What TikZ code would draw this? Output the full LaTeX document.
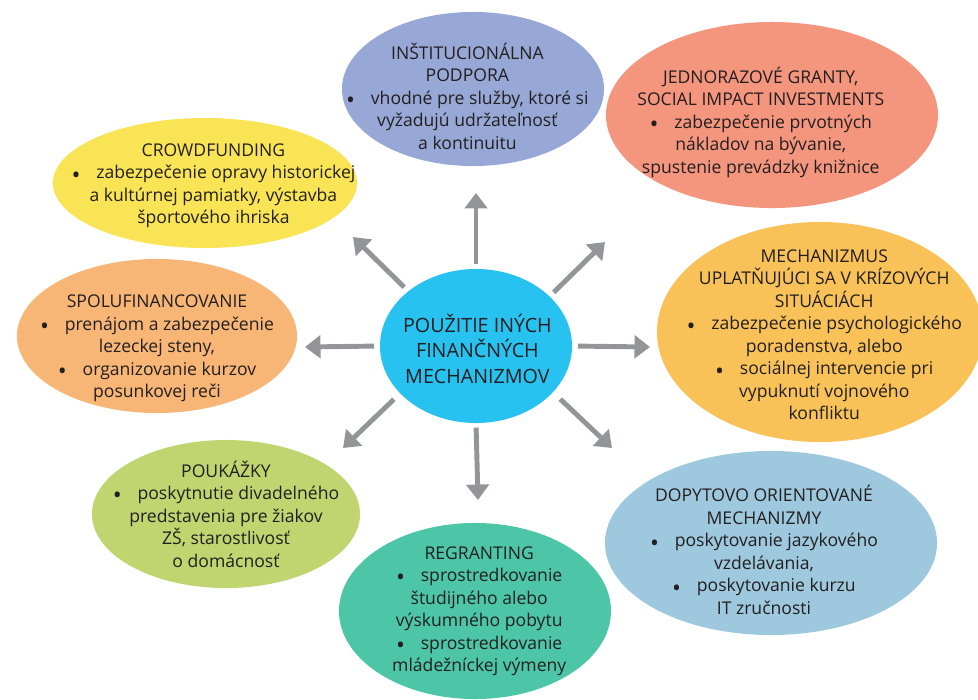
\documentclass[tikz,border=0pt]{standalone}
\usepackage{fontspec}
\setmainfont{Open Sans}
\usepackage{tikz}
\usetikzlibrary{arrows.meta, shapes.geometric}

\definecolor{hubc}{HTML}{27C2F0}
\definecolor{insc}{HTML}{97A8D6}
\definecolor{grantc}{HTML}{F4957E}
\definecolor{crowdc}{HTML}{F8E455}
\definecolor{spoluc}{HTML}{F8B676}
\definecolor{krizc}{HTML}{F9C259}
\definecolor{poukc}{HTML}{C0D46F}
\definecolor{regrc}{HTML}{4CC6A6}
\definecolor{dopytc}{HTML}{9DC8DD}
\definecolor{arrgray}{HTML}{939598}
\definecolor{ink}{HTML}{231F20}

\tikzset{
  bubble/.style={ellipse, fill=#1, draw=none, inner sep=0pt},
  txt/.style={align=center, text=ink, inner sep=0pt, font=\fontsize{12.5}{16}\selectfont},
  hubtxt/.style={align=center, text=ink, inner sep=0pt, font=\fontsize{14}{18}\selectfont},
  arr/.style={draw=arrgray, line width=3.5pt, -{Triangle[width=16pt,length=11pt]}}
}
\newcommand{\pnt}{\raisebox{-0.45ex}{\scalebox{1.35}{\textbullet}}\hspace{0.9em}}

\begin{document}
\begin{tikzpicture}[x=0.025cm, y=-0.025cm]

			\useasboundingbox (0,0) rectangle (978,699);

			\node[bubble=insc, minimum width=6.55cm, minimum height=3.85cm,
			  label={[txt, xshift=-4pt, yshift=-5pt]center:{INŠTITUCIONÁLNA\\ PODPORA\\ \pnt vhodné pre služby, ktoré si\\ vyžadujú udržateľnosť\\ a kontinuitu}}] (ins) at (473,89) {};
			\node[bubble=grantc, minimum width=8.3cm, minimum height=4.65cm,
			  label={[txt, xshift=-8pt, yshift=-5pt]center:{JEDNORAZOVÉ GRANTY,\\ SOCIAL IMPACT INVESTMENTS\\ \pnt zabezpečenie prvotných\\ nákladov na bývanie,\\ spustenie prevádzky knižnice}}] (grant) at (772,115) {};
			\node[bubble=crowdc, minimum width=7.6cm, minimum height=3.25cm,
			  label={[txt, xshift=6pt, yshift=-2pt]center:{CROWDFUNDING\\ \pnt zabezpečenie opravy historickej\\ a kultúrnej pamiatky, výstavba\\ športového ihriska}}] (crowd) at (205,183) {};
			\node[bubble=spoluc, minimum width=7cm, minimum height=3.85cm,
			  label={[txt, yshift=-9pt]center:{SPOLUFINANCOVANIE\\ \pnt prenájom a zabezpečenie\\ lezeckej steny,\\ \pnt organizovanie kurzov\\ posunkovej reči}}] (spolu) at (157,336) {};
			\node[bubble=krizc, minimum width=8.15cm, minimum height=5.5cm,
			  label={[txt, xshift=3pt, yshift=-2pt]center:{MECHANIZMUS\\ UPLATŇUJÚCI SA V KRÍZOVÝCH\\ SITUÁCIÁCH\\ \pnt zabezpečenie psychologického\\ poradenstva, alebo\\ \pnt sociálnej intervencie pri\\ vypuknutí vojnového\\ konfliktu}}] (kriz) at (820,332) {};
			\node[bubble=poukc, minimum width=6.7cm, minimum height=3.7cm,
			  label={[txt]center:{POUKÁŽKY\\ \pnt poskytnutie divadelného\\ predstavenia pre žiakov\\ ZŠ, starostlivosť\\ o domácnosť}}] (pouk) at (226,514) {};
			\node[bubble=regrc, minimum width=6.8cm, minimum height=4.4cm,
			  label={[txt, xshift=3pt]center:{REGRANTING\\ \pnt sprostredkovanie\\ študijného alebo\\ výskumného pobytu\\ \pnt sprostredkovanie\\ mládežníckej výmeny}}] (regr) at (475,611) {};
			\node[bubble=dopytc, minimum width=8.3cm, minimum height=4.6cm,
			  label={[txt, xshift=-5pt, yshift=-5pt]center:{DOPYTOVO ORIENTOVANÉ\\ MECHANIZMY\\ \pnt poskytovanie jazykového\\ vzdelávania,\\ \pnt poskytovanie kurzu\\ IT zručnosti}}] (dopyt) at (771,543) {};

			\node[bubble=hubc, minimum width=4.8cm, minimum height=3.85cm,
			  label={[hubtxt, xshift=1pt, yshift=-2pt]center:{POUŽITIE INÝCH\\ FINANČNÝCH\\ MECHANIZMOV}}] (hub) at (476,346) {};

			\coordinate (tN) at (476,193);
			\coordinate (tNE) at (605,242);
			\coordinate (tE) at (650,347);
			\coordinate (tSE) at (612,448);
			\coordinate (tS) at (478,500);
			\coordinate (tSW) at (343,448);
			\coordinate (tW) at (305,347);
			\coordinate (tNW) at (353,237);

			\draw [arr, shorten <=3pt] (hub.90)--(tN);
			\draw [arr, shorten <=4pt] (hub.34)--(tNE);
			\draw [arr, shorten <=4pt] (hub.0)--(tE);
			\draw [arr, shorten <=7pt] (hub.-31)--(tSE);
			\draw [arr, shorten <=3pt] (hub.-90)--(tS);
			\draw [arr, shorten <=6pt] (hub.-148)--(tSW);
			\draw [arr, shorten <=4pt] (hub.180)--(tW);
			\draw [arr, shorten <=4pt] (hub.141)--(tNW);

\end{tikzpicture}
\end{document}
